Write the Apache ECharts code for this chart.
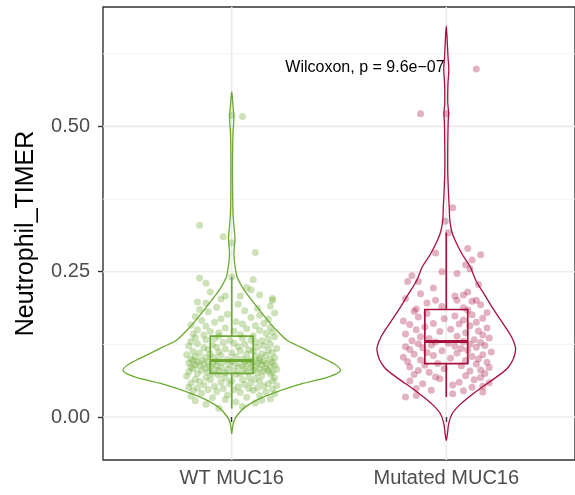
<!DOCTYPE html>
<html>
<head>
<meta charset="utf-8">
<script src="https://cdn.jsdelivr.net/npm/echarts@6/dist/echarts.min.js"></script>
<style>
  html, body { margin: 0; padding: 0; background: #ffffff; }
  #chart { width: 575px; height: 495px; }
</style>
</head>
<body>
<div id="chart"></div>
<script>
// Groups and axis ticks
const groups = ['WT MUC16', 'Mutated MUC16'];
const yTicks = [0, 0.25, 0.5];
const yMinorTicks = [0.125, 0.375, 0.625];

// Neutrophil_TIMER scores, WT MUC16
const wtValues = [
  0.015, 0.018, 0.022, 0.024, 0.026, 0.028, 0.029, 0.030,
  0.031, 0.033, 0.034, 0.036, 0.037, 0.038, 0.040, 0.041, 0.042, 0.043,
  0.044, 0.045, 0.046, 0.047, 0.047, 0.048, 0.049, 0.049, 0.050, 0.050,
  0.051, 0.052, 0.053, 0.053, 0.054, 0.055, 0.056, 0.057, 0.057, 0.058,
  0.059, 0.060, 0.061, 0.061, 0.062, 0.063, 0.064, 0.064, 0.065, 0.066,
  0.067, 0.067, 0.068, 0.069, 0.070, 0.071, 0.072, 0.073, 0.074, 0.074,
  0.075, 0.075, 0.076, 0.076, 0.077, 0.077, 0.078, 0.078, 0.079, 0.079,
  0.080, 0.080, 0.080, 0.081, 0.081, 0.082, 0.082, 0.083, 0.083, 0.083,
  0.084, 0.084, 0.085, 0.085, 0.086, 0.086, 0.087, 0.087, 0.087, 0.088,
  0.088, 0.089, 0.089, 0.090, 0.090, 0.090, 0.091, 0.091, 0.092, 0.092,
  0.092, 0.093, 0.093, 0.094, 0.094, 0.094, 0.095, 0.095, 0.095, 0.096,
  0.096, 0.096, 0.097, 0.097, 0.097,
  0.098, 0.098, 0.099, 0.099, 0.100, 0.100, 0.101, 0.102, 0.102, 0.103,
  0.104, 0.104, 0.105, 0.106, 0.106, 0.107, 0.108, 0.108, 0.109, 0.110,
  0.110, 0.111, 0.112, 0.113, 0.113, 0.114, 0.115, 0.116, 0.116, 0.117,
  0.118, 0.119, 0.120, 0.120, 0.121, 0.122, 0.123, 0.124, 0.125, 0.125,
  0.126, 0.127, 0.128, 0.129, 0.130, 0.131, 0.132, 0.132, 0.133, 0.134,
  0.135, 0.136, 0.137, 0.138, 0.139,
  0.140, 0.141, 0.142, 0.143, 0.144, 0.145, 0.146, 0.147, 0.148, 0.149,
  0.150, 0.152, 0.153, 0.154, 0.156, 0.157, 0.158, 0.160, 0.161, 0.163,
  0.164, 0.166, 0.168, 0.169, 0.171, 0.173, 0.175, 0.177, 0.179, 0.181,
  0.183, 0.185, 0.187, 0.189, 0.191, 0.194, 0.196, 0.198,
  0.201, 0.203, 0.204, 0.208, 0.208, 0.210, 0.215, 0.219, 0.223, 0.230,
  0.236, 0.239, 0.241,
  0.283, 0.300, 0.310, 0.330, 0.517, 0.519
];
// Horizontal jitter of each WT point (in group units)
const wtJitter = [
  -0.06, 0.05, -0.12, 0.11, 0.02, -0.17, 0.14, -0.03,
  0.18, -0.09, 0.07, -0.19, 0.13, -0.02, 0.20, -0.14, 0.04, 0.16,
  -0.07, -0.18, 0.10, 0.01, -0.11, 0.19, -0.04, 0.08, -0.16, 0.12,
  -0.20, 0.03, 0.15, -0.08, 0.21, -0.13, 0.06, -0.01, 0.17, -0.19,
  0.09, -0.05, 0.13, -0.15, 0.00, 0.19, -0.10, 0.05, -0.17, 0.11,
  -0.03, 0.20, -0.12, 0.08, -0.21, 0.14, -0.06, 0.02, 0.18, -0.09,
  0.04, -0.16, 0.12, -0.03, 0.19, -0.11, 0.07, -0.20, 0.15, -0.06,
  0.01, 0.17, -0.14, 0.10, -0.08, 0.21, -0.02, 0.13, -0.18, 0.06,
  -0.12, 0.16, -0.05, 0.09, -0.19, 0.03, 0.18, -0.10, 0.11, -0.15,
  0.05, -0.07, 0.20, -0.01, 0.14, -0.17, 0.08, -0.13, 0.02, 0.16,
  -0.09, 0.12, -0.20, 0.06, -0.04, 0.19, -0.11, 0.10, -0.16, 0.00,
  0.15, -0.07, 0.07, -0.18, 0.13,
  -0.14, 0.09, -0.02, 0.18, -0.19, 0.05, 0.13, -0.08, 0.20, -0.12,
  0.02, -0.17, 0.11, -0.05, 0.16, -0.21, 0.07, -0.10, 0.14, 0.00,
  -0.15, 0.19, -0.06, 0.10, -0.18, 0.04, 0.17, -0.11, 0.08, -0.03,
  0.21, -0.13, 0.12, -0.07, 0.03, -0.20, 0.15, -0.09, 0.06, 0.18,
  -0.16, 0.01, -0.04, 0.11, -0.19, 0.14, -0.01, 0.09, -0.12, 0.17,
  -0.08, 0.05, -0.17, 0.20, -0.06,
  0.10, -0.13, 0.04, -0.18, 0.16, -0.06, 0.19, -0.10, 0.01, 0.13,
  -0.16, 0.07, -0.03, 0.18, -0.12, 0.11, -0.19, 0.05, 0.15, -0.08,
  0.02, -0.14, 0.17, -0.05, 0.09, -0.17, 0.13, -0.02, 0.20, -0.11,
  0.06, -0.15, 0.12, -0.07, 0.18, 0.03, -0.12, -0.16,
  0.19, -0.05, 0.19, -0.03, 0.04, 0.13, -0.10, 0.09, 0.07, -0.12,
  0.10, -0.15, 0.00,
  0.11, 0.00, -0.04, -0.15, 0.05, 0.00
];

// Neutrophil_TIMER scores, Mutated MUC16
const mutValues = [
  0.0345, 0.037, 0.040, 0.043, 0.045, 0.046, 0.049, 0.051, 0.053, 0.055,
  0.057, 0.059, 0.060, 0.062, 0.064, 0.066, 0.068, 0.069, 0.071, 0.073,
  0.075, 0.077, 0.079, 0.080, 0.081, 0.083, 0.085, 0.086, 0.088, 0.089,
  0.091,
  0.092, 0.094, 0.095, 0.097, 0.098, 0.100, 0.101, 0.103, 0.104, 0.106,
  0.107, 0.108, 0.110, 0.111, 0.112, 0.114, 0.115, 0.116, 0.118, 0.119,
  0.120, 0.121, 0.122, 0.123, 0.124, 0.125, 0.126, 0.127, 0.128, 0.129,
  0.130,
  0.131, 0.133, 0.135, 0.136, 0.138, 0.139, 0.141, 0.143, 0.145, 0.147,
  0.148, 0.150, 0.151, 0.153, 0.155, 0.157, 0.159, 0.160, 0.161, 0.163,
  0.165, 0.167, 0.169, 0.170, 0.172, 0.174, 0.176, 0.178, 0.180, 0.182,
  0.184,
  0.186, 0.188, 0.190, 0.193, 0.196, 0.199, 0.201, 0.201, 0.201, 0.204,
  0.208, 0.210, 0.212, 0.215, 0.222, 0.228, 0.233, 0.233, 0.243, 0.247,
  0.250, 0.255, 0.262, 0.270, 0.279, 0.282, 0.290, 0.317,
  0.337, 0.360, 0.522, 0.522, 0.599
];
const mutJitter = [
  -0.19, -0.14, 0.03, 0.17, 0.08, -0.07, -0.14, 0.12, 0.17, 0.03,
  -0.11, 0.20, 0.06, -0.17, 0.13, -0.03, 0.16, -0.05, 0.09, -0.15,
  0.18, -0.08, 0.11, -0.13, 0.16, -0.01, 0.20, -0.17, 0.07, -0.10,
  0.14,
  -0.04, 0.19, -0.18, 0.09, -0.12, 0.15, 0.02, -0.20, 0.12, -0.06,
  0.17, -0.15, 0.05, -0.09, 0.21, -0.02, 0.10, -0.17, 0.07, -0.11,
  0.14, -0.19, 0.04, 0.18, -0.07, 0.11, -0.13, 0.01, 0.16, -0.05,
  0.08,
  -0.16, 0.13, -0.08, 0.20, -0.12, 0.05, 0.17, -0.19, 0.09, -0.03,
  0.15, -0.14, 0.02, 0.19, -0.10, 0.11, -0.17, 0.06, -0.06, 0.14,
  -0.20, 0.08, -0.01, 0.17, -0.13, 0.04, 0.12, -0.09, 0.19, -0.15,
  0.10,
  -0.14, 0.08, -0.02, 0.16, -0.09, 0.12, -0.05, 0.05, 0.14, -0.19,
  0.04, 0.08, -0.12, 0.10, -0.06, 0.15, -0.18, -0.13, -0.16, 0.05,
  -0.02, 0.11, 0.09, 0.12, 0.16, -0.05, 0.10, 0.01,
  -0.005, 0.03, -0.12, 0.00, 0.14
];

// Violin outlines: [score, half width in group units], bottom to top
const wtViolin = [
  [-0.029, 0.000], [-0.020, 0.003], [-0.010, 0.008], [0.000, 0.020],
  [0.017, 0.062], [0.035, 0.152], [0.055, 0.304], [0.069, 0.452],
  [0.080, 0.507], [0.092, 0.475], [0.109, 0.382], [0.121, 0.318],
  [0.132, 0.258], [0.155, 0.194], [0.167, 0.166], [0.196, 0.104],
  [0.220, 0.055], [0.241, 0.025], [0.253, 0.018], [0.270, 0.012],
  [0.282, 0.010], [0.300, 0.014], [0.310, 0.015], [0.325, 0.011],
  [0.350, 0.006], [0.400, 0.004], [0.450, 0.004], [0.490, 0.006],
  [0.505, 0.009], [0.517, 0.010], [0.530, 0.007], [0.545, 0.004],
  [0.560, 0.000]
];
const mutViolin = [
  [-0.040, 0.000], [-0.030, 0.005], [-0.010, 0.012], [0.006, 0.028],
  [0.020, 0.060], [0.0345, 0.106], [0.050, 0.161], [0.063, 0.212],
  [0.086, 0.290], [0.115, 0.323], [0.138, 0.304], [0.167, 0.253],
  [0.190, 0.212], [0.207, 0.184], [0.235, 0.138], [0.259, 0.111],
  [0.280, 0.074], [0.304, 0.041], [0.320, 0.025], [0.340, 0.016],
  [0.360, 0.014], [0.380, 0.011], [0.420, 0.007], [0.470, 0.007],
  [0.510, 0.009], [0.523, 0.011], [0.540, 0.007], [0.575, 0.008],
  [0.598, 0.012], [0.620, 0.008], [0.650, 0.004], [0.673, 0.000]
];

// Box statistics: [lower whisker, Q1, median, Q3, upper whisker]
const wtBox = [0.0145, 0.075, 0.097, 0.139, 0.241];
const mutBox = [0.0345, 0.092, 0.130, 0.185, 0.317];

// Test annotation and its anchor [group position, score]
const testLabel = 'Wilcoxon, p = 9.6e\u221207';
const testLabelPos = [1.25, 0.601];

const wtColor = '#6BA930';
const mutColor = '#A8103E';
const wtPoint = 'rgba(107,169,48,0.42)';
const mutPoint = 'rgba(168,16,62,0.40)';
const font = 'Liberation Sans, Arial, sans-serif';

const chart = echarts.init(document.getElementById('chart'), null, { renderer: 'canvas' });

function gridLineSeries(values, vertical, color, width) {
  return {
    type: 'custom',
    silent: true,
    z: 0,
    data: values.map(v => [v]),
    encode: vertical ? { x: 0 } : { y: 0 },
    renderItem: function (params, api) {
      const cs = params.coordSys;
      const v = api.value(0);
      if (vertical) {
        const x = api.coord([v, 0])[0];
        return { type: 'line', shape: { x1: x, y1: cs.y, x2: x, y2: cs.y + cs.height },
                 style: { stroke: color, lineWidth: width } };
      }
      const y = api.coord([1, v])[1];
      return { type: 'line', shape: { x1: cs.x, y1: y, x2: cs.x + cs.width, y2: y },
               style: { stroke: color, lineWidth: width } };
    }
  };
}

function violinSeries(pos, outline, color) {
  return {
    type: 'custom',
    silent: true,
    z: 2,
    data: [[pos, outline[0][0]]],
    renderItem: function (params, api) {
      const left = outline.map(p => api.coord([pos - p[1], p[0]]));
      const right = outline.slice(1, -1).reverse().map(p => api.coord([pos + p[1], p[0]]));
      return {
        type: 'polygon',
        shape: { points: left.concat(right), smooth: 0.3 },
        style: { fill: 'none', stroke: color, lineWidth: 1.3 }
      };
    }
  };
}

function boxSeries(pos, stats, color) {
  const half = 0.1;
  return {
    type: 'custom',
    silent: true,
    z: 4,
    data: [[pos, stats[2]]],
    renderItem: function (params, api) {
      const lo = api.coord([pos, stats[0]]);
      const q1 = api.coord([pos - half, stats[1]]);
      const med = api.coord([pos - half, stats[2]]);
      const q3 = api.coord([pos + half, stats[3]]);
      const hi = api.coord([pos, stats[4]]);
      const q1r = api.coord([pos + half, stats[1]]);
      const medr = api.coord([pos + half, stats[2]]);
      const q3c = api.coord([pos, stats[3]]);
      const q1c = api.coord([pos, stats[1]]);
      const st = { stroke: color, lineWidth: 1.7, fill: 'none' };
      return {
        type: 'group',
        children: [
          { type: 'line', shape: { x1: lo[0], y1: lo[1], x2: q1c[0], y2: q1c[1] }, style: st },
          { type: 'line', shape: { x1: q3c[0], y1: q3c[1], x2: hi[0], y2: hi[1] }, style: st },
          { type: 'rect', shape: { x: q1[0], y: q3[1], width: q1r[0] - q1[0], height: q1[1] - q3[1] }, style: st },
          { type: 'line', shape: { x1: med[0], y1: med[1], x2: medr[0], y2: medr[1] },
            style: { stroke: color, lineWidth: 3 } }
        ]
      };
    }
  };
}

function pointSeries(pos, values, jitter, color) {
  return {
    type: 'scatter',
    silent: true,
    z: 3,
    symbol: 'circle',
    symbolSize: 7,
    itemStyle: { color: color },
    data: values.map((v, i) => [pos + jitter[i], v])
  };
}

const option = {
  animation: false,
  backgroundColor: '#ffffff',
  grid: {
    left: 103, top: 7, width: 477, height: 453,
    show: true, borderColor: '#333333', borderWidth: 1.4, backgroundColor: 'transparent'
  },
  xAxis: {
    type: 'value',
    min: 0.4, max: 2.6,
    axisLine: { show: false },
    splitLine: { show: false },
    axisTick: { show: true, length: 5, customValues: [1, 2], lineStyle: { color: '#333333', width: 1.4 } },
    axisLabel: {
      customValues: [1, 2],
      formatter: v => groups[Math.round(v) - 1] || '',
      color: '#4D4D4D', fontSize: 20, fontFamily: font, margin: 8
    }
  },
  yAxis: {
    type: 'value',
    min: -0.074, max: 0.7055,
    name: 'Neutrophil_TIMER',
    nameLocation: 'middle',
    nameRotate: 90,
    nameGap: 64,
    nameTextStyle: { color: '#000000', fontSize: 25, fontFamily: font },
    axisLine: { show: false },
    splitLine: { show: false },
    axisTick: { show: true, length: 5, customValues: yTicks, lineStyle: { color: '#333333', width: 1.4 } },
    axisLabel: {
      customValues: yTicks,
      formatter: v => v.toFixed(2),
      color: '#4D4D4D', fontSize: 20, fontFamily: font, margin: 13
    }
  },
  series: [
    gridLineSeries(yMinorTicks, false, '#F3F3F3', 1),
    gridLineSeries(yTicks, false, '#EBEBEB', 1.6),
    gridLineSeries([1, 2], true, '#EBEBEB', 1.6),
    violinSeries(1, wtViolin, wtColor),
    violinSeries(2, mutViolin, mutColor),
    pointSeries(1, wtValues, wtJitter, wtPoint),
    pointSeries(2, mutValues, mutJitter, mutPoint),
    boxSeries(1, wtBox, wtColor),
    boxSeries(2, mutBox, mutColor),
    {
      type: 'custom',
      silent: true,
      z: 5,
      data: [testLabelPos],
      renderItem: function (params, api) {
        const p = api.coord([api.value(0), api.value(1)]);
        return {
          type: 'text',
          x: p[0], y: p[1],
          style: {
            text: testLabel, fill: '#000000', fontSize: 16,
            fontFamily: font,
            align: 'left', verticalAlign: 'middle'
          }
        };
      }
    }
  ]
};

chart.setOption(option);
</script>
</body>
</html>
